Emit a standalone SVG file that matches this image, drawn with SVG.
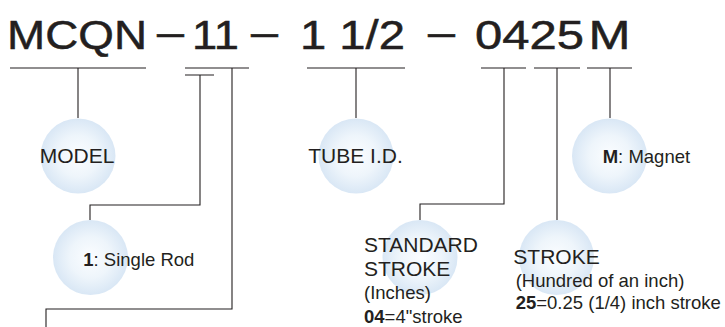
<svg xmlns="http://www.w3.org/2000/svg" width="725" height="327" viewBox="0 0 725 327">
<defs>
<radialGradient id="bubble" cx="50%" cy="50%" r="50%">
<stop offset="0%" stop-color="#fbfdff"/>
<stop offset="55%" stop-color="#eef5fb"/>
<stop offset="100%" stop-color="#d9e7f5"/>
</radialGradient>
</defs>
<style>
.t{font-family:"Liberation Sans",Arial,sans-serif;fill:#231f20}
.title{font-size:41px;stroke:#231f20;stroke-width:0.5}
.big{font-size:21px}
.sm{font-size:18.5px}
.b{font-weight:bold}
.c{fill:url(#bubble)}
.ln{fill:none;stroke:#231f20;stroke-width:1.1}
</style>
<rect width="725" height="327" fill="#ffffff"/>
<g id="title" class="t title">
<text x="7" y="49" textLength="140" lengthAdjust="spacingAndGlyphs">MCQN</text>
<text x="157" y="46" textLength="27" lengthAdjust="spacingAndGlyphs">–</text>
<text x="192" y="49" textLength="47" lengthAdjust="spacingAndGlyphs">11</text>
<text x="251" y="46" textLength="27" lengthAdjust="spacingAndGlyphs">–</text>
<text x="300" y="49" textLength="105" lengthAdjust="spacingAndGlyphs">1 1/2</text>
<text x="428" y="46" textLength="27" lengthAdjust="spacingAndGlyphs">–</text>
<text x="475" y="49" textLength="109" lengthAdjust="spacingAndGlyphs">0425</text>
<text x="588.5" y="49" textLength="42" lengthAdjust="spacingAndGlyphs">M</text>
</g>
<g id="connectors" class="ln">
<path d="M10 68H146M185 68H249M185 75H214M307 68H405M481 68H526M534 68H580M587 68H632"/>
<path d="M78 68V118"/>
<path d="M200 75V205H90V220"/>
<path d="M232 68V309H46V327"/>
<path d="M356 68V118"/>
<path d="M504 68V204H420V220"/>
<path d="M557 68V220"/>
<path d="M610 68V118"/>
</g>
<g id="model">
<circle class="c" cx="78" cy="156" r="37.5"/>
<text class="t big" x="77" y="163.3" text-anchor="middle">MODEL</text>
</g>
<g id="single-rod">
<circle class="c" cx="90.5" cy="257.5" r="37.5"/>
<text class="t sm" x="83.3" y="265.7"><tspan class="b">1</tspan>: Single Rod</text>
</g>
<g id="tube-id">
<circle class="c" cx="356" cy="156" r="37.5"/>
<text class="t big" x="355.5" y="163.3" text-anchor="middle">TUBE I.D.</text>
</g>
<g id="magnet">
<circle class="c" cx="609.5" cy="156" r="37.5"/>
<text class="t sm" x="602.7" y="163.3"><tspan class="b">M</tspan>: Magnet</text>
</g>
<g id="standard-stroke">
<circle class="c" cx="420" cy="257.5" r="37.5"/>
<text class="t big" x="364" y="251.7">STANDARD</text>
<text class="t big" x="364" y="276">STROKE</text>
<text class="t sm" x="364" y="299">(Inches)</text>
<text class="t sm" x="364" y="322.7"><tspan class="b">04</tspan>=4"stroke</text>
</g>
<g id="stroke">
<circle class="c" cx="556.5" cy="257.5" r="37.5"/>
<text class="t big" x="513.3" y="264">STROKE</text>
<text class="t sm" x="515.7" y="286.7">(Hundred of an inch)</text>
<text class="t sm" x="515.7" y="309.3"><tspan class="b">25</tspan>=0.25 (1/4) inch stroke</text>
</g>
</svg>
